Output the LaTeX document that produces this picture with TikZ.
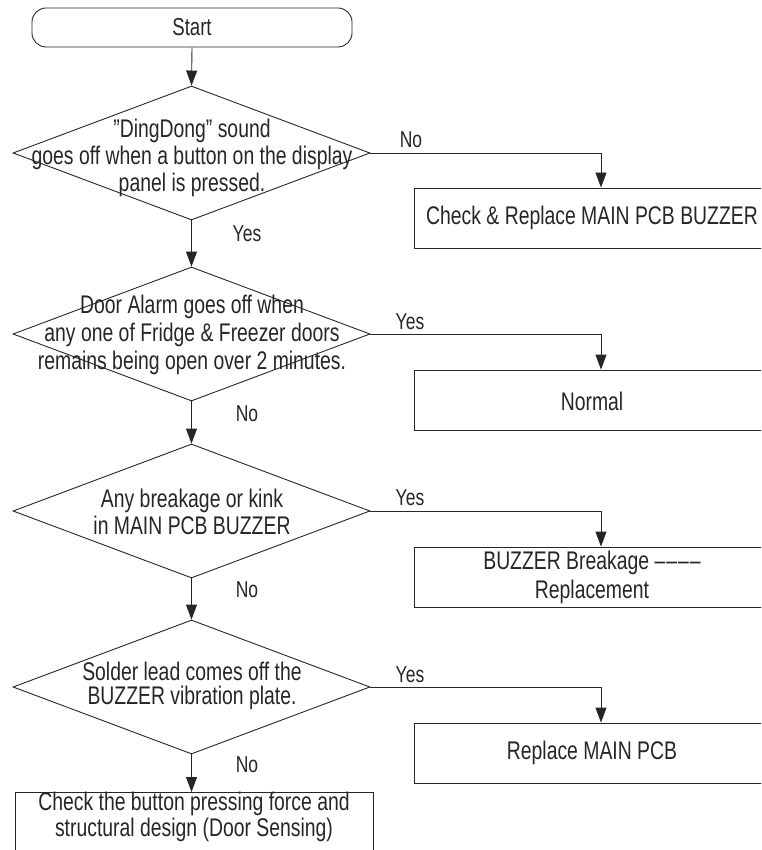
\documentclass[tikz,border=0pt]{standalone}
\usepackage{fontspec}
\setmainfont[FakeStretch=0.76]{Liberation Sans}
\usetikzlibrary{shapes.geometric,arrows.meta}
\begin{document}
\begin{tikzpicture}[x=1pt,y=-1pt,line width=0.9pt,
  every node/.style={text=black!85},
  dia/.style={draw=black!85,shape=diamond,minimum width=357pt,minimum height=134pt,inner sep=0pt},
  boxr/.style={draw=black!85,rectangle,minimum width=356pt,minimum height=60pt,inner sep=0pt},
  txt/.style={align=center,font=\fontsize{25.5}{27}\selectfont,inner sep=0pt},
  lbl/.style={font=\fontsize{23}{26}\selectfont,inner sep=0pt},
  arr/.style={draw=black!85,-{Triangle[length=15pt,width=11pt]}}]
\useasboundingbox (0,0) rectangle (761,850);
\clip (0,0) rectangle (761,850);

% start
\node[draw=black!85,rounded corners=14pt,minimum width=320pt,minimum height=39pt,inner sep=0pt,font=\fontsize{24.5}{26}\selectfont] (start) at (192,27.5) {Start};

% decisions
\node[dia] (d1) at (191.5,153) {};
\node[txt] (t1) at (192,158) {\symbol{34}DingDong\symbol{34} sound\\goes off when a button on the display\\panel is pressed.};
\node[dia] (d2) at (191.5,334) {};
\node[txt,font=\fontsize{25.5}{28}\selectfont] (t2) at (192,335) {Door Alarm goes off when\\any one of Fridge \& Freezer doors\\remains being open over 2 minutes.};
\node[dia] (d3) at (191.5,511) {};
\node[txt] (t3) at (192,512) {Any breakage or kink\\in MAIN PCB BUZZER};
\node[dia] (d4) at (191.5,687) {};
\node[txt,font=\fontsize{25.5}{24}\selectfont] (t4) at (192,686) {Solder lead comes off the\\BUZZER vibration plate.};

% right boxes
\node[boxr] (b1) at (592,218) {};
\node[txt] (bt1) at (592,218) {Check \& Replace MAIN PCB BUZZER};
\node[boxr] (b2) at (592,400) {};
\node[txt] (bt2) at (592,401) {Normal};
\node[boxr] (b3) at (592,577) {};
\node[txt,font=\fontsize{25.5}{29}\selectfont] (bt3) at (592,577) {BUZZER Breakage \textendash\kern1pt\textendash\kern1pt\textendash\kern1pt\textendash\\Replacement};
\node[boxr] (b4) at (592,753) {};
\node[txt] (bt4) at (592,753) {Replace MAIN PCB};

% final box
\node[draw=black!85,rectangle,minimum width=358pt,minimum height=64pt,inner sep=0pt,anchor=north] (fin) at (194,792) {};
\node[txt,font=\fontsize{25.5}{26}\selectfont] (fint) at (194,817) {Check the button pressing force and\\structural design (Door Sensing)};

% vertical arrows
\draw[arr] (start.south) -- (d1.north);
\draw[arr] (d1.south) -- (d2.north);
\draw[arr] (d2.south) -- (d3.north);
\draw[arr] (d3.south) -- (d4.north);
\draw[arr] (d4.south) -- (fin.north -| d4.south);

% right branches
\draw[arr] (d1.east) -| ([xshift=9pt]b1.north);
\draw[arr] (d2.east) -| ([xshift=9pt]b2.north);
\draw[arr] (d3.east) -| ([xshift=9pt]b3.north);
\draw[arr] (d4.east) -| ([xshift=9pt]b4.north);

% labels
\node[lbl] (y1) at (247,234) {Yes};
\node[lbl] (n1) at (411,140) {No};
\node[lbl] (y2) at (410,322) {Yes};
\node[lbl] (n2) at (247,414) {No};
\node[lbl] (y3) at (410,498) {Yes};
\node[lbl] (n3) at (247,590) {No};
\node[lbl] (y4) at (410,675) {Yes};
\node[lbl] (n4) at (247,765) {No};
\end{tikzpicture}
\end{document}
